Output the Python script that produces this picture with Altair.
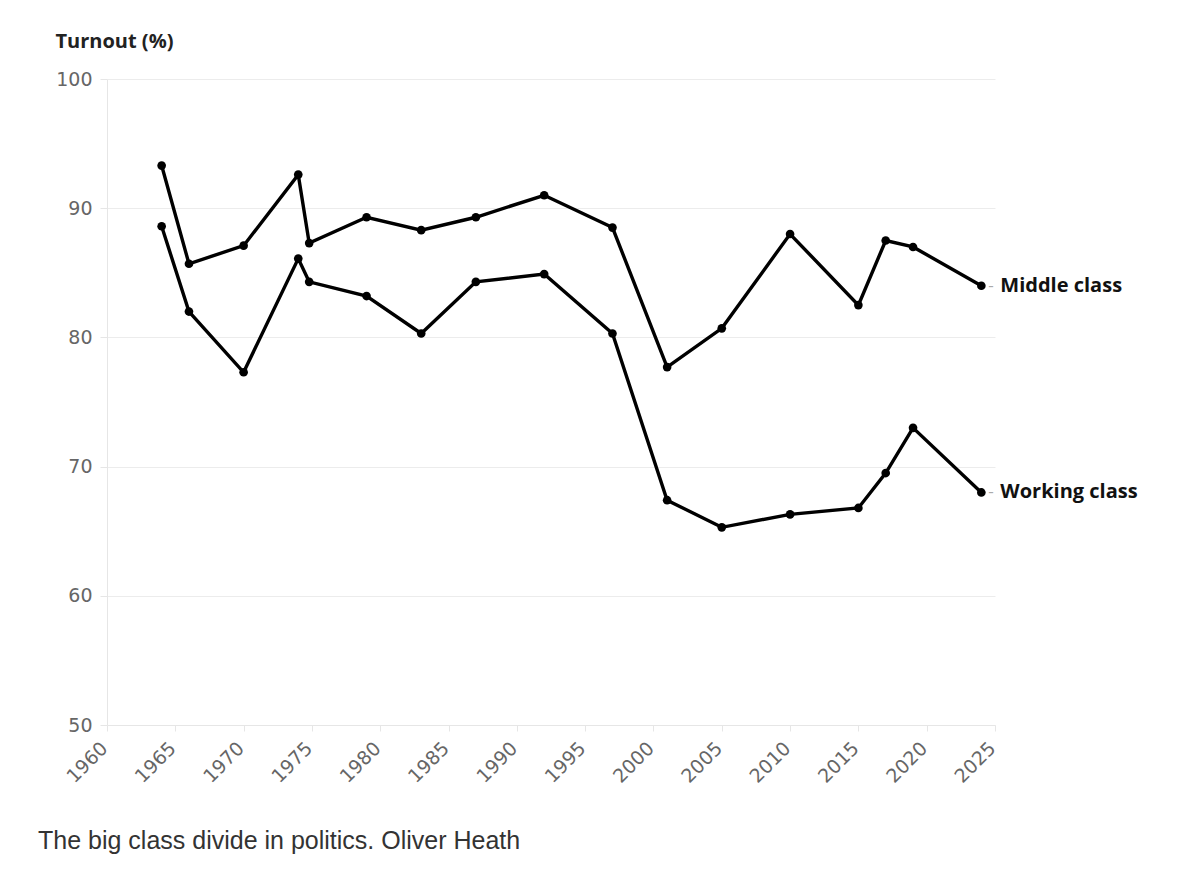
import altair as alt
import pandas as pd

years = [1964, 1966, 1970, 1974, 1974.8, 1979, 1983, 1987, 1992, 1997,
         2001, 2005, 2010, 2015, 2017, 2019, 2024]
middle_class = [93.3, 85.7, 87.1, 92.6, 87.3, 89.3, 88.3, 89.3, 91.0, 88.5,
                77.7, 80.7, 88.0, 82.5, 87.5, 87.0, 84.0]
working_class = [88.6, 82.0, 77.3, 86.1, 84.3, 83.2, 80.3, 84.3, 84.9, 80.3,
                 67.4, 65.3, 66.3, 66.8, 69.5, 73.0, 68.0]
series_names = ["Middle class", "Working class"]
x_ticks = list(range(1960, 2026, 5))
y_ticks = [50, 60, 70, 80, 90, 100]
y_title = "Turnout (%)"
caption = "The big class divide in politics. Oliver Heath"

rows = []
for name, vals in zip(series_names, [middle_class, working_class]):
    for yr, v in zip(years, vals):
        rows.append({"year": yr, "turnout": v, "series": name})
df = pd.DataFrame(rows)
last = df[df["year"] == years[-1]]

x = alt.X("year:Q", scale=alt.Scale(domain=[1960, 2025], nice=False, zero=False),
          axis=alt.Axis(values=x_ticks, format="d", labelAngle=-45, labelAlign="right",
                        labelBaseline="middle", labelFontSize=19, labelColor="#666666",
                        labelFont="DejaVu Sans", grid=False, domainColor="#e6e6e6",
                        tickColor="#e6e6e6", tickSize=6, labelPadding=14,
                        labelOffset=-3, title=None))
y = alt.Y("turnout:Q", scale=alt.Scale(domain=[50, 100], nice=False, zero=False),
          axis=alt.Axis(values=y_ticks, labelFontSize=19, labelColor="#666666",
                        labelFont="DejaVu Sans", gridColor="#ececec", domainColor="#e6e6e6",
                        tickColor="#e6e6e6", tickSize=7, labelPadding=8,
                        title=y_title, titleAngle=0, titleAlign="left",
                        titleBaseline="middle", titleX=-52, titleY=-38,
                        titleFontSize=20, titleFont="Open Sans", titleFontWeight="bold",
                        titleColor="#222222"))

base = alt.Chart(df)
lines = base.mark_line(color="black", strokeWidth=3.4).encode(x=x, y=y, detail="series:N")
points = base.mark_circle(color="black", opacity=1, size=75).encode(x=x, y=y, detail="series:N")

dash = alt.Chart(last).mark_text(text="-", align="left", baseline="middle", dx=7,
                                  fontSize=17, color="#aaaaaa", font="Open Sans").encode(
    x="year:Q", y="turnout:Q")
labels = alt.Chart(last).mark_text(align="left", baseline="middle", dx=19,
                                    fontSize=20, fontWeight="bold", color="#111111",
                                    font="Open Sans").encode(
    x="year:Q", y="turnout:Q", text="series:N")

cap = alt.Chart(pd.DataFrame({"t": [caption]})).mark_text(
    align="left", baseline="middle", fontSize=25, color="#333333",
    font="Liberation Sans").encode(text="t:N", x=alt.value(-69), y=alt.value(762))

chart = alt.layer(lines, points, dash, labels, cap).properties(
    width=888, height=646,
    background="white",
    autosize=alt.AutoSizeParams(type="none"),
    padding={"left": 99, "top": 71, "right": 197, "bottom": 143},
).configure_view(stroke=None)

chart.save("out.html", embed_options={"renderer": "svg", "actions": False})
